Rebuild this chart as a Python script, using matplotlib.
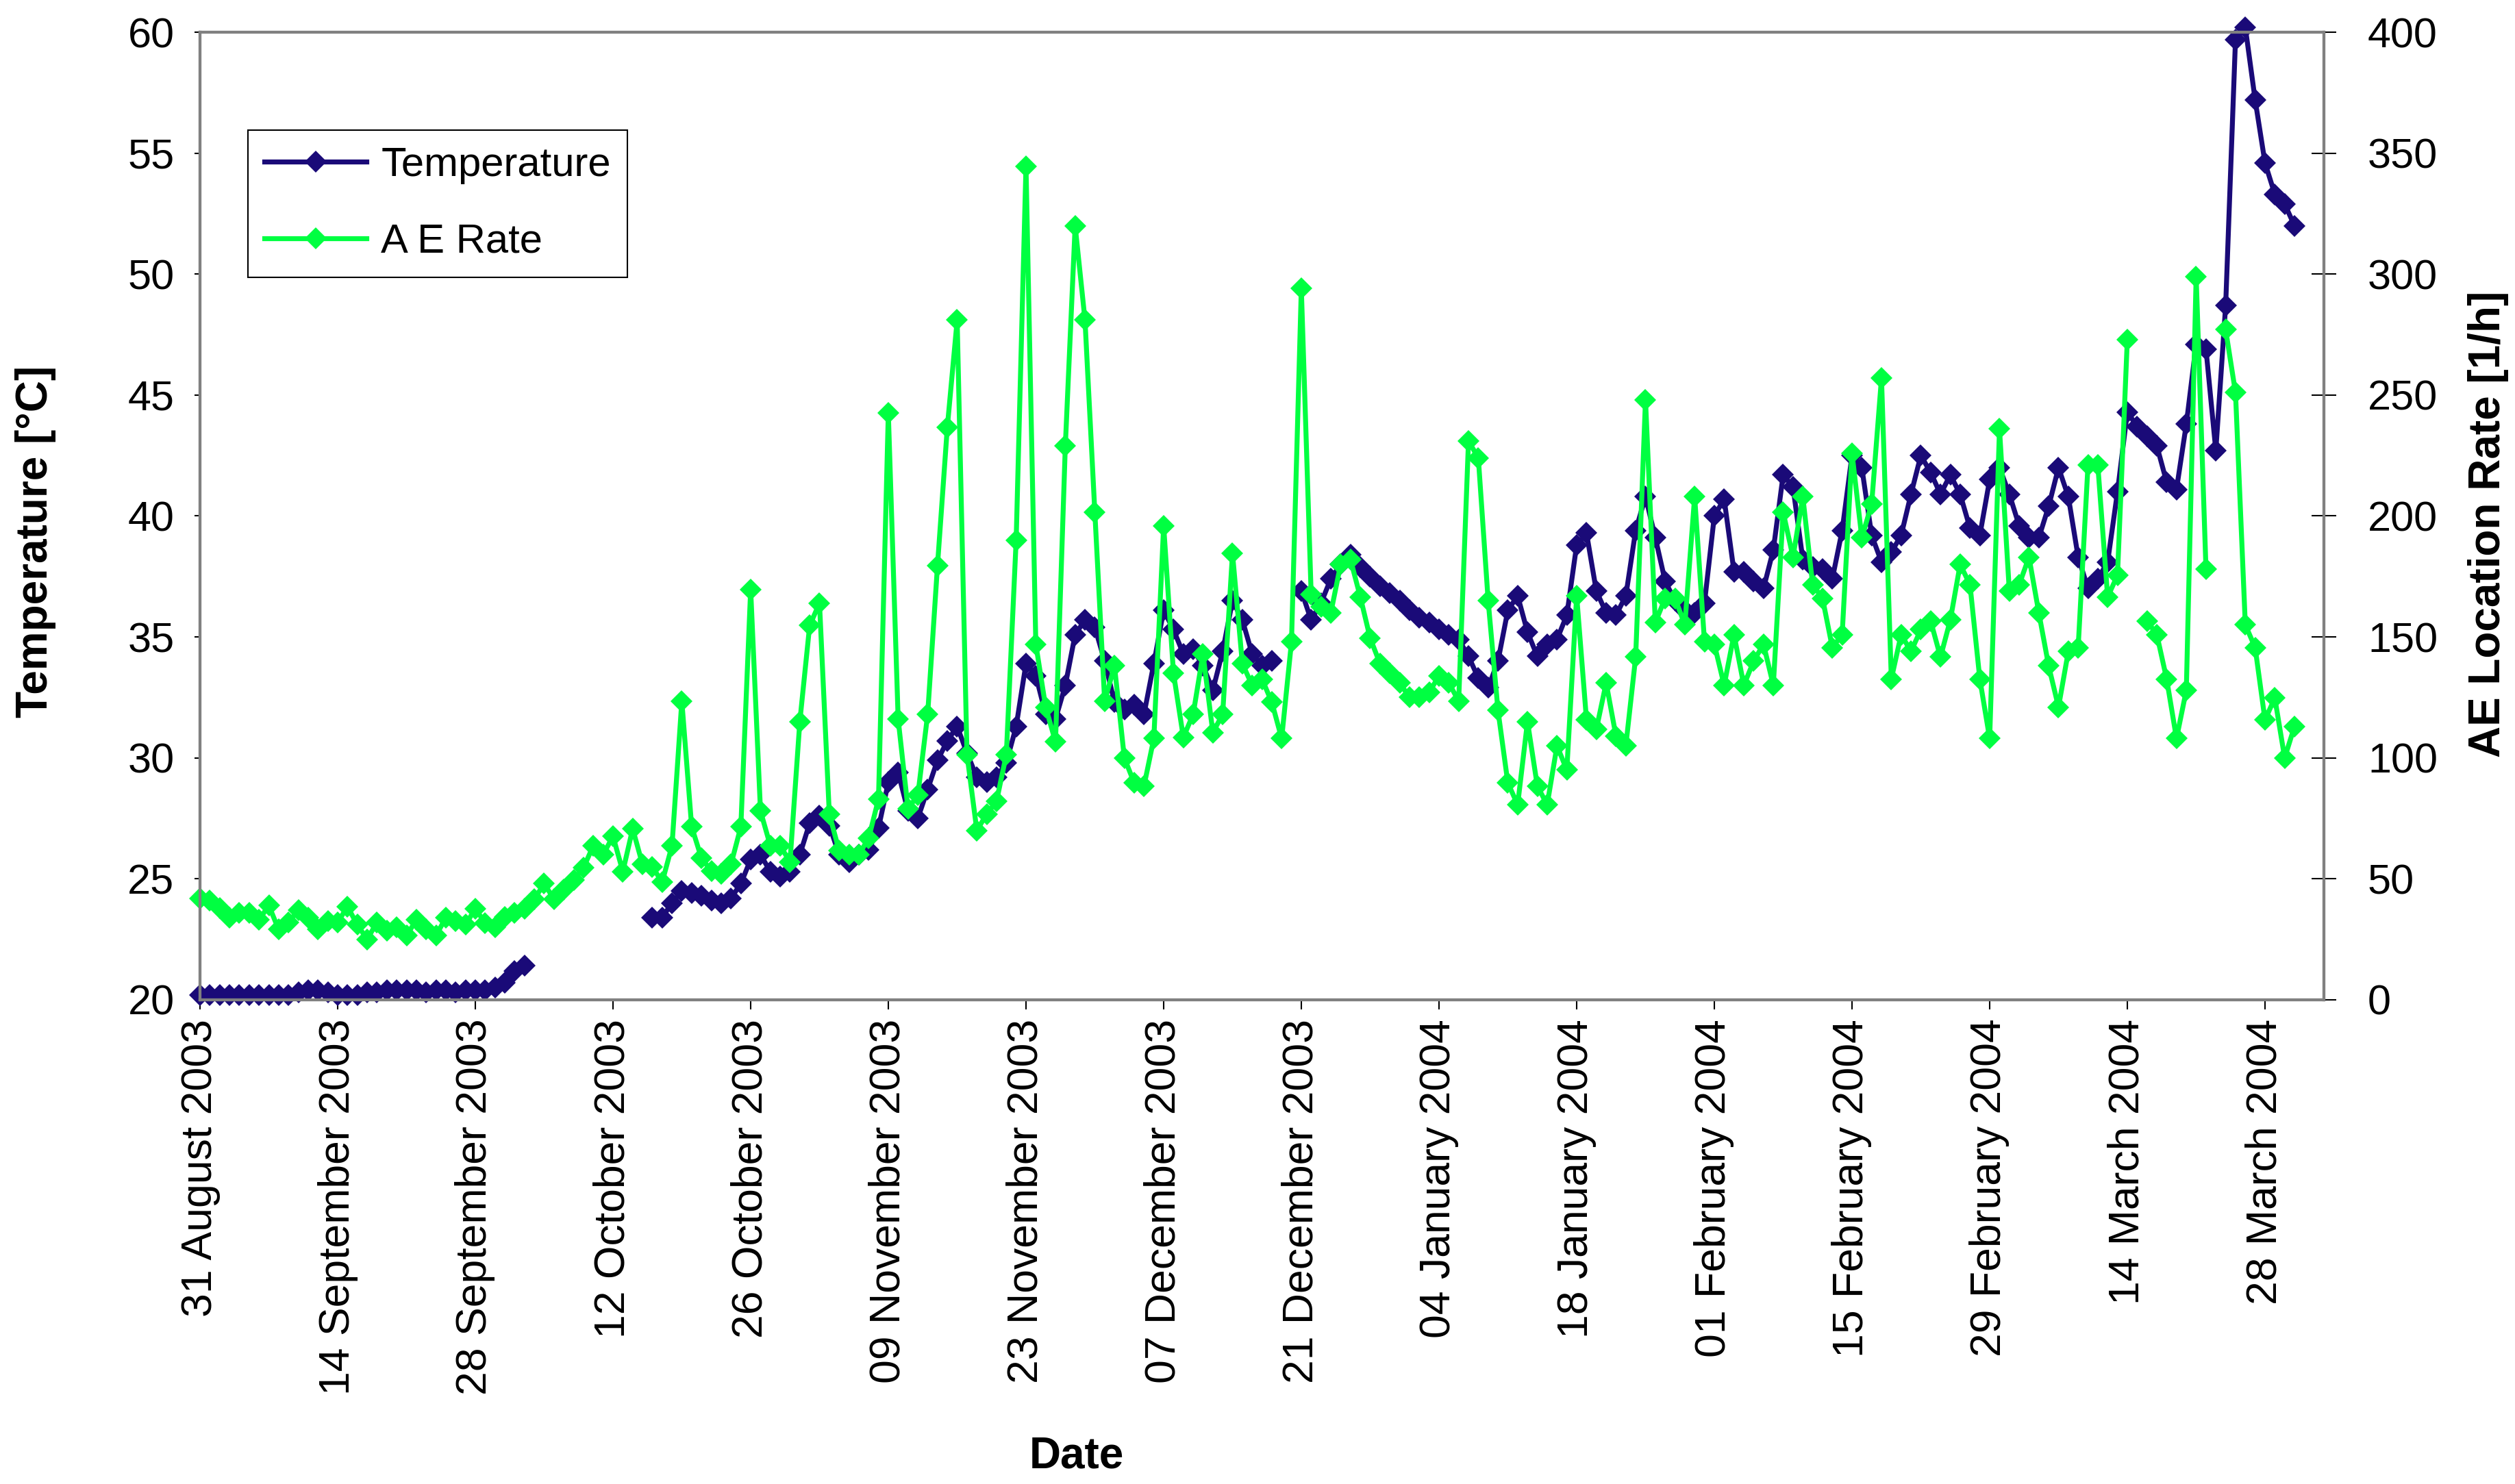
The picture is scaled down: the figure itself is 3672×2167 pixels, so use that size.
import numpy as np
import pandas as pd
import matplotlib
matplotlib.use("Agg")
import matplotlib.pyplot as plt
import matplotlib.dates as mdates

nan = np.nan

# daily values starting 31 August 2003
start_date = "2003-08-31"

temperature = [
    20.2, 20.2, 20.2, 20.2, 20.2, 20.2, 20.2, 20.2, 20.2, 20.2,
    20.3, 20.4, 20.4, 20.3, 20.2, 20.2, 20.2, 20.3, 20.3, 20.4,
    20.4, 20.4, 20.4, 20.3, 20.4, 20.4, 20.3, 20.4, 20.4, 20.4,
    20.5, 20.7, 21.2, 21.4, nan, nan, nan, nan, nan, nan,
    nan, nan, nan, nan, nan, nan, 23.4, 23.4, 24.0, 24.5,
    24.4, 24.3, 24.1, 24.0, 24.2, 24.8, 25.8, 26.0, 25.3, 25.1,
    25.3, 26.0, 27.3, 27.6, 27.2, 26.0, 25.7, 26.0, 26.2, 27.1,
    29.0, 29.4, 27.8, 27.5, 28.7, 29.9, 30.7, 31.3, 30.2, 29.2,
    29.0, 29.2, 29.8, 31.3, 33.9, 33.4, 31.8, 31.6, 33.0, 35.1,
    35.7, 35.4, 34.0, 32.3, 32.0, 32.2, 31.8, 33.9, 36.1, 35.3,
    34.3, 34.5, 33.8, 32.8, 34.4, 36.5, 35.7, 34.3, 33.8, 34.0,
    nan, nan, 36.9, 35.7, 36.4, 37.4, 38.0, 38.4, 37.9, 37.5,
    37.1, 36.8, 36.5, 36.1, 35.8, 35.6, 35.3, 35.1, 34.9, 34.2,
    33.3, 32.9, 34.0, 36.1, 36.7, 35.2, 34.2, 34.7, 34.9, 35.9,
    38.8, 39.3, 36.9, 36.0, 35.9, 36.7, 39.4, 40.8, 39.1, 37.3,
    36.5, 36.1, 36.0, 36.4, 40.0, 40.7, 37.7, 37.7, 37.3, 37.0,
    38.6, 41.7, 41.2, 38.2, 37.9, 37.8, 37.4, 39.4, 42.5, 42.0,
    39.2, 38.1, 38.5, 39.2, 40.9, 42.5, 41.8, 40.9, 41.7, 40.9,
    39.5, 39.2, 41.5, 42.0, 40.9, 39.6, 39.1, 39.1, 40.4, 42.0,
    40.8, 38.3, 37.0, 37.4, 38.1, 41.0, 44.3, 43.7, 43.3, 42.9,
    41.4, 41.1, 43.8, 47.1, 46.9, 42.7, 48.7, 59.7, 60.2, 57.2,
    54.6, 53.3, 52.9, 52.0,
]

ae_rate = [
    42, 41, 38, 34, 36, 36, 33, 39, 29, 32,
    37, 34, 29, 32.5, 32, 38.5, 31, 25, 32, 28.6,
    30, 26.5, 33, 29, 26.5, 34, 32.5, 31, 37.7, 31.7,
    30, 34.3, 36, 37.7, 41.6, 48, 41.6, 45.5, 49.4, 54.6,
    63.7, 60, 67.6, 53, 70.7, 56, 55, 48.6, 63.7, 123.5,
    71.5, 58.5, 53.3, 52, 56, 71.5, 169.6, 78, 63.7, 63.7,
    57, 115, 154.7, 164, 76.7, 61.6, 60, 60, 66.8, 83,
    242.6, 116, 79, 84.5, 118, 179.5, 236.7, 281, 101.4, 70,
    76.7, 82, 101.4, 190, 344.6, 147, 121, 106.6, 229, 320,
    281, 201.6, 123.5, 138, 100, 89.7, 88.4, 108, 196, 135,
    108.5, 118, 143, 110.5, 118, 184.6, 139, 130, 132.6, 123,
    108, 148, 294, 167.7, 162.5, 160, 180, 182, 166.5, 149.5,
    139, 135, 131, 125, 125, 127, 134, 131, 123.5, 231,
    224, 165, 119.6, 89.7, 80.6, 115, 88.4, 80.6, 105, 95,
    167, 115.7, 111.8, 131, 109, 105, 141.7, 248, 156, 166,
    166, 155, 208, 148, 147, 130, 151, 130, 140, 147,
    130, 201.6, 183, 208, 171.6, 166, 145.6, 151, 226, 191,
    205, 257, 132.6, 151, 144, 153, 156.6, 141.7, 157, 180,
    171.6, 132.6, 108, 236, 169, 171.6, 183, 160, 138, 121,
    144, 145.6, 221, 221, 166.5, 175.5, 273, nan, 156.6, 151,
    132.6, 108, 128, 299, 178, nan, 277, 251, 155, 145.6,
    115.7, 124.8, 100, 113,
]

tick_dates = pd.date_range("2003-08-31", "2004-03-28", freq="14D")

days = pd.date_range(start_date, periods=len(temperature), freq="D")

plt.rcParams["font.family"] = ["Liberation Sans", "DejaVu Sans"]

navy = "#1a0a78"
green = "#00ff41"
frame_grey = "#808080"

fig = plt.figure(figsize=(36.73, 21.67), dpi=100)
ax = fig.add_axes([0.0795, 0.3263, 0.8443, 0.652])
ax2 = ax.twinx()

ln1, = ax.plot(days, temperature, color=navy, lw=5.2, marker="D", ms=16,
               mew=0, clip_on=False, label="Temperature")
ln2, = ax2.plot(days[:len(ae_rate)], ae_rate, color=green, lw=5.2, marker="D",
                ms=16, mew=0, clip_on=False, label="A E Rate")

t0 = pd.Timestamp(start_date)
ax.set_xlim(t0, t0 + pd.Timedelta(days=216))
ax.set_ylim(20, 60)
ax.set_yticks(range(20, 61, 5))
ax2.set_ylim(0, 400)
ax2.set_yticks(range(0, 401, 50))

ax.set_xticks(tick_dates)
ax.xaxis.set_major_formatter(mdates.DateFormatter("%d %B %Y"))
for lab in ax.get_xticklabels():
    lab.set_rotation(90)

ax.tick_params(axis="y", direction="out", length=6, width=1.5, pad=21, labelsize=44)
ax.tick_params(axis="x", direction="out", length=10, width=1.5, pad=10, labelsize=45)
ax2.tick_params(axis="y", direction="inout", length=26, width=1.5, pad=33, labelsize=44)

for a in (ax, ax2):
    for sp in a.spines.values():
        sp.set_color(frame_grey)
        sp.set_linewidth(3)

leg = fig.legend(handles=[ln1, ln2], loc="upper left", bbox_to_anchor=(0.0986, 0.9123),
                 fontsize=43, fancybox=False, edgecolor="black", framealpha=1,
                 handlelength=2.5, handletextpad=0.35, borderpad=0.4,
                 labelspacing=0.95, borderaxespad=0, numpoints=1)
leg.get_frame().set_linewidth(1.5)

fig.text(0.0142, 0.635, "Temperature [°C]", rotation=90, fontsize=46,
         fontweight="bold", ha="center", va="center")
fig.text(0.989, 0.647, "AE Location Rate [1/h]", rotation=90, fontsize=46,
         fontweight="bold", ha="center", va="center")
fig.text(0.428, 0.0185, "Date", fontsize=46, fontweight="bold", ha="center", va="center")

fig.savefig("out.png", dpi=100)
